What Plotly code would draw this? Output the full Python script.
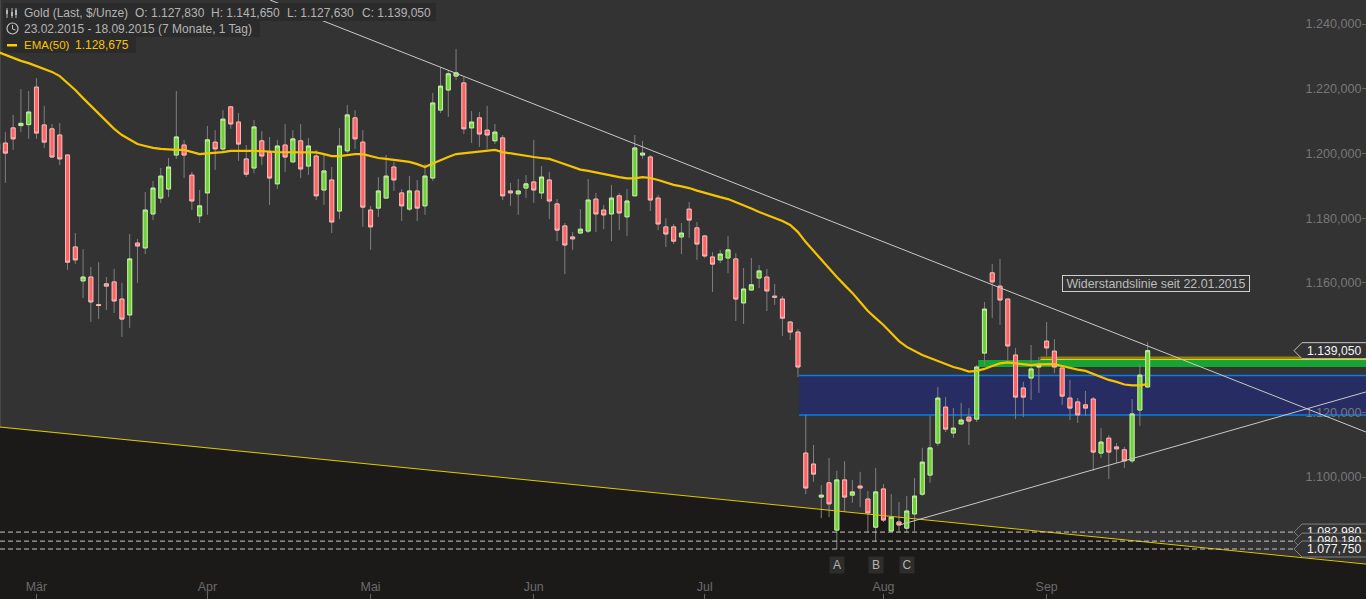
import plotly.graph_objects as go

W, H = 1366, 599

open_ = [
1203.1,1203.2,1207.9,1208.6,1208.9,1220.5,1208.8,1207.6,1205.7,1199.5,
1171.1,1160.6,1161.8,1153.3,1159.7,1160.3,1155.0,1150.1,1172.3,1170.8,
1181.3,1186.2,1189.0,1199.5,1202.6,1193.3,1180.7,1187.8,1203.5,1201.4,
1214.4,1209.7,1198.3,1195.5,1203.9,1200.4,1190.6,1202.6,1197.4,1203.9,
1196.1,1199.2,1188.7,1191.8,1182.2,1200.8,1211.0,1203.5,1182.5,1183.1,
1186.2,1195.8,1187.8,1182.8,1188.4,1183.8,1192.4,1213.4,1219.6,1223.9,
1221.8,1207.9,1211.0,1207.2,1203.9,1204.8,1188.4,1187.5,1189.3,1191.2,
1187.8,1191.8,1184.4,1177.6,1174.2,1175.4,1176.0,1185.9,1182.5,1181.3,
1186.9,1180.4,1186.9,1199.5,1198.9,1186.2,1177.3,1177.3,1174.2,1182.8,
1177.0,1174.5,1168.0,1167.1,1167.7,1167.4,1153.8,1157.8,1161.5,1161.8,
1155.9,1155.0,1147.9,1144.8,1107.4,1104.0,1093.8,1098.2,1083.6,1099.1,
1094.4,1097.2,1093.2,1084.5,1096.3,1083.3,1086.1,1084.2,1088.6,1094.7,
1100.6,1110.5,1121.6,1113.6,1116.4,1118.5,1117.9,1138.3,1163.1,1159.0,
1155.0,1137.7,1127.5,1130.6,1134.0,1142.0,1138.9,1133.7,1124.4,1123.2,
1122.3,1124.1,1107.4,1112.0,1109.3,1108.4,1105.0,1120.7,1127.83]
high = [
1204.2,1206.6,1211.9,1219.9,1219.3,1223.3,1214.7,1209.1,1209.4,1199.8,
1175.4,1170.4,1164.9,1166.4,1161.8,1164.3,1160.0,1175.1,1173.6,1188.1,
1191.5,1195.5,1198.6,1219.3,1204.2,1194.3,1188.7,1208.5,1207.2,1213.4,
1214.7,1212.5,1202.6,1210.3,1206.9,1205.1,1204.2,1209.1,1207.2,1209.1,
1204.8,1201.1,1199.5,1195.8,1207.9,1215.0,1213.4,1207.2,1183.8,1192.7,
1199.5,1197.4,1189.0,1193.0,1191.8,1196.7,1218.7,1226.7,1225.8,1232.3,
1223.6,1213.1,1212.8,1214.7,1209.1,1205.7,1190.9,1192.1,1193.3,1204.2,
1196.1,1194.3,1185.9,1178.5,1175.7,1182.8,1192.1,1187.8,1184.1,1190.3,
1187.8,1189.0,1205.7,1203.9,1199.5,1187.2,1180.0,1178.2,1178.5,1185.0,
1178.8,1174.8,1169.5,1170.2,1174.5,1169.2,1164.6,1167.7,1165.5,1164.3,
1159.7,1155.9,1148.2,1145.7,1119.2,1109.9,1097.5,1105.9,1101.9,1104.9,
1099.1,1101.6,1095.7,1102.8,1097.8,1094.7,1092.3,1094.1,1099.7,1109.0,
1118.9,1127.8,1124.7,1121.3,1122.9,1121.3,1134.6,1154.1,1165.8,1167.4,
1155.0,1139.9,1129.4,1140.8,1137.1,1147.9,1142.6,1133.7,1130.0,1124.4,
1126.6,1124.7,1115.1,1113.0,1110.5,1109.3,1124.1,1134.9,1141.65]
low = [
1199.5,1190.9,1201.1,1206.6,1204.5,1204.5,1201.7,1198.6,1196.4,1164.0,
1165.8,1155.3,1147.9,1148.8,1151.6,1150.7,1143.3,1146.1,1160.0,1168.9,
1179.4,1184.7,1186.5,1198.3,1192.4,1182.5,1178.5,1181.0,1194.9,1200.4,
1207.6,1197.7,1192.7,1193.9,1196.4,1184.1,1189.0,1194.3,1197.1,1192.4,
1193.3,1185.6,1184.1,1175.4,1179.7,1200.1,1201.4,1177.3,1170.2,1180.4,
1186.2,1188.4,1179.1,1182.2,1179.1,1181.0,1191.5,1212.5,1211.3,1222.7,
1206.0,1203.2,1202.0,1201.4,1202.9,1185.6,1183.8,1181.0,1186.2,1184.7,
1185.9,1179.7,1172.9,1162.7,1170.2,1175.1,1175.4,1175.7,1176.6,1172.9,
1176.3,1174.5,1186.9,1198.3,1182.2,1176.3,1171.1,1172.0,1168.9,1173.9,
1167.1,1167.7,1157.2,1166.1,1163.0,1148.2,1147.3,1157.5,1158.4,1151.3,
1153.2,1143.6,1142.4,1130.9,1094.7,1098.5,1087.3,1087.6,1077.75,1089.2,
1092.0,1090.7,1082.98,1080.18,1086.1,1083.0,1083.0,1083.0,1083.3,1094.1,
1098.2,1109.6,1113.9,1112.1,1116.1,1109.9,1117.0,1134.6,1149.1,1147.0,
1135.5,1117.9,1118.5,1123.8,1126.0,1137.4,1132.1,1122.3,1117.6,1116.7,
1118.9,1101.9,1105.9,1099.4,1104.3,1102.8,1104.3,1115.8,1127.63]
close = [
1201.1,1200.1,1204.5,1209.3,1212.8,1206.3,1203.5,1198.9,1198.3,1166.4,
1167.1,1161.8,1154.1,1153.0,1159.0,1154.4,1148.8,1167.4,1171.4,1182.5,
1189.3,1193.0,1195.8,1205.1,1199.5,1185.3,1183.8,1204.2,1201.4,1210.6,
1209.1,1202.9,1193.6,1208.2,1199.2,1192.4,1202.3,1198.9,1204.5,1195.2,
1202.3,1186.9,1194.6,1178.8,1202.3,1211.9,1204.5,1183.4,1177.3,1188.4,
1193.0,1191.8,1183.8,1188.4,1183.1,1193.0,1215.6,1220.8,1224.6,1224.9,
1207.6,1209.7,1206.0,1205.7,1206.6,1186.9,1187.8,1188.4,1190.6,1188.7,
1192.7,1185.3,1176.3,1171.7,1173.6,1176.6,1185.6,1181.3,1181.0,1186.2,
1181.6,1185.3,1201.7,1200.1,1185.6,1178.2,1175.1,1172.9,1175.4,1179.4,
1172.0,1168.3,1165.8,1168.9,1170.2,1155.0,1158.1,1159.4,1163.7,1157.5,
1155.6,1149.1,1144.8,1134.0,1096.6,1100.9,1094.4,1091.7,1099.1,1093.8,
1095.4,1096.6,1088.9,1095.4,1086.7,1087.6,1085.2,1089.5,1094.1,1104.6,
1109.0,1124.4,1114.8,1115.1,1117.6,1117.3,1134.0,1151.9,1160.3,1154.7,
1140.5,1124.7,1124.7,1133.4,1134.6,1139.9,1134.0,1125.0,1121.3,1119.2,
1121.3,1107.7,1110.8,1107.7,1108.7,1105.0,1119.5,1131.5,1139.05]
ema50 = [
1231.4,1230.4,1229.5,1228.6,1227.9,1227.0,1226.1,1225.2,1223.9,1221.8,
1219.6,1217.1,1214.7,1212.2,1210.0,1207.6,1205.7,1204.2,1202.9,1202.3,
1201.7,1201.4,1201.2,1201.1,1201.1,1200.4,1199.8,1200.0,1200.1,1200.4,
1200.8,1200.9,1200.8,1200.8,1200.8,1200.6,1200.4,1200.4,1200.4,1200.4,
1200.4,1200.3,1199.8,1199.2,1199.2,1199.5,1199.8,1199.8,1199.2,1198.6,
1198.3,1198.0,1197.7,1197.4,1196.7,1195.8,1196.9,1198.0,1198.9,1199.8,
1200.1,1200.3,1200.6,1200.9,1201.1,1200.4,1200.0,1199.5,1199.2,1198.9,
1198.6,1198.3,1197.5,1196.7,1195.8,1195.0,1194.6,1194.1,1193.5,1193.2,
1192.7,1192.3,1192.3,1192.7,1192.4,1191.8,1191.0,1190.3,1189.8,1189.3,
1188.5,1187.8,1187.0,1186.5,1185.9,1185.0,1183.9,1183.0,1181.9,1181.0,
1180.0,1179.1,1177.9,1175.7,1172.6,1169.9,1167.1,1164.3,1161.8,1159.3,
1156.9,1154.1,1151.3,1149.1,1147.0,1144.5,1142.0,1140.2,1138.9,1137.7,
1136.8,1135.9,1134.9,1134.0,1133.4,1132.6,1132.8,1133.4,1134.3,1135.1,
1135.4,1135.2,1134.9,1134.6,1134.8,1134.9,1134.9,1134.3,1133.7,1133.2,
1132.8,1131.8,1130.9,1130.0,1129.4,1128.6,1128.3,1128.3,1128.68]

price_ticks = [1240, 1220, 1200, 1180, 1160, 1120, 1100]
price_labels = ["1.240,000", "1.220,000", "1.200,000", "1.180,000", "1.160,000", "1.120,000", "1.100,000"]
month_ticks = [5, 27, 48, 69, 91, 114, 135]
month_labels = ["Mär", "Apr", "Mai", "Jun", "Jul", "Aug", "Sep"]

x_range = [0.309, 176.1]
y_range = [1062.3, 1247.42]

support_x = [0.31, 176.1]
support_y = [1115.45, 1073.1]
resistance_x = [35.06, 176.1]
resistance_y = [1247.42, 1113.9]
rising_x = [116.1, 176.1]
rising_y = [1085.2, 1126.3]
blue_zone = [103.15, 1131.37, 1119.16]
green_zone = [126.2, 1136.16, 1134.0]
yellow_zone = [134.2, 1137.24, 1136.31]
abc_levels = [1082.98, 1080.18, 1077.75]
abc_level_labels = ["1.082,980", "1.080,180", "1.077,750"]
last_price = 1139.05
last_price_label = "1.139,050"
abc_marks = [(108, "A"), (113, "B"), (117, "C")]

BG = "#333333"
DARK = "#1b1a19"
FONT = "Liberation Sans"


def fx(px):
    return px / W


def fy(py):
    return 1 - py / H


x = list(range(len(close)))
fig = go.Figure()

fig.add_trace(go.Candlestick(
    x=x, open=open_, high=high, low=low, close=close,
    increasing=dict(line=dict(color="#7f7f7f", width=1), fillcolor="#7f7f7f"),
    decreasing=dict(line=dict(color="#7f7f7f", width=1), fillcolor="#7f7f7f"),
    whiskerwidth=0, showlegend=False, hoverinfo="skip",
))
fig.add_trace(go.Candlestick(
    x=x, open=open_, close=close,
    high=[max(a, b) for a, b in zip(open_, close)],
    low=[min(a, b) for a, b in zip(open_, close)],
    increasing=dict(line=dict(color="#c4f2a2", width=1), fillcolor="#6fd13a"),
    decreasing=dict(line=dict(color="#ffb6b6", width=1), fillcolor="#fb6464"),
    whiskerwidth=0, showlegend=False, hoverinfo="skip",
))
fig.add_trace(go.Scatter(
    x=list(range(len(ema50))), y=ema50, mode="lines",
    line=dict(color="#f5c400", width=2.2), showlegend=False, hoverinfo="skip",
))

shapes = []
# dark area below the long-term support line
shapes.append(dict(
    type="path", layer="below", xref="x", yref="y", line=dict(width=0), fillcolor=DARK,
    path=f"M {support_x[0]-1},{support_y[0]} L {support_x[1]+1},{support_y[1]} "
         f"L {support_x[1]+1},{y_range[0]} L {support_x[0]-1},{y_range[0]} Z",
))
# zones
shapes.append(dict(type="rect", layer="below", xref="x", yref="y",
                   x0=blue_zone[0], x1=x_range[1], y0=blue_zone[2], y1=blue_zone[1],
                   fillcolor="#272d63", line=dict(width=0)))
for lv in blue_zone[1:]:
    shapes.append(dict(type="line", layer="below", xref="x", yref="y",
                       x0=blue_zone[0], x1=x_range[1], y0=lv, y1=lv,
                       line=dict(color="#0880e8", width=1.5)))
shapes.append(dict(type="rect", layer="below", xref="x", yref="y",
                   x0=green_zone[0], x1=x_range[1], y0=green_zone[2], y1=green_zone[1],
                   fillcolor="#16a534", line=dict(width=0)))
shapes.append(dict(type="rect", layer="below", xref="x", yref="y",
                   x0=yellow_zone[0], x1=x_range[1], y0=yellow_zone[2], y1=yellow_zone[1],
                   fillcolor="#8f8210", line=dict(width=0)))
shapes.append(dict(type="line", layer="below", xref="x", yref="y",
                   x0=yellow_zone[0], x1=x_range[1], y0=yellow_zone[2], y1=yellow_zone[2],
                   line=dict(color="#e8d800", width=1)))
# left border
shapes.append(dict(type="line", xref="paper", yref="paper", x0=0.0003, x1=0.0003, y0=0, y1=1,
                   line=dict(color="#4a4a4a", width=1), layer="below"))
# trend lines
shapes.append(dict(type="line", xref="x", yref="y", x0=support_x[0], x1=support_x[1],
                   y0=support_y[0], y1=support_y[1], line=dict(color="#e2c700", width=1)))
shapes.append(dict(type="line", xref="x", yref="y", x0=resistance_x[0], x1=resistance_x[1],
                   y0=resistance_y[0], y1=resistance_y[1], line=dict(color="#c9c9c9", width=1)))
shapes.append(dict(type="line", xref="x", yref="y", x0=rising_x[0], x1=rising_x[1],
                   y0=rising_y[0], y1=rising_y[1], line=dict(color="#c9c9c9", width=1)))
for lv in abc_levels:
    shapes.append(dict(type="line", xref="paper", yref="y", x0=0, x1=fx(1296), y0=lv, y1=lv,
                       line=dict(color="#c8c8c8", width=1, dash="5px,3px")))

annotations = []


def label(px, py, text, color="#b4b4b4", size=12, anchor="left", **kw):
    annotations.append(dict(xref="paper", yref="paper", x=fx(px), y=fy(py), text=text,
                            showarrow=False, xanchor=anchor, yanchor="middle",
                            font=dict(family=FONT, size=size, color=color), borderpad=0, **kw))


def tag(price, text, border, clipped=False):
    half = 8 * 0.30905
    tip, body = fx(1294), fx(1302)
    shapes.append(dict(type="path", xref="paper", yref="y", fillcolor=BG,
                       line=dict(color=border, width=1),
                       path=f"M 1.01,{price+half} L {body},{price+half} L {tip},{price} "
                            f"L {body},{price-half} L 1.01,{price-half} Z"))
    if clipped:
        # the next tag lies over the lower half of this one
        annotations.append(dict(xref="paper", yref="y", x=fx(1305.5), y=price + half, text=text,
                                showarrow=False, xanchor="left", yanchor="top", borderpad=0,
                                width=58, height=8, align="left", valign="top",
                                font=dict(family=FONT, size=12.2, color="#f4f4f4")))
    else:
        annotations.append(dict(xref="paper", yref="y", x=fx(1305.5), y=price, text=text, showarrow=False,
                                xanchor="left", yanchor="middle", borderpad=0,
                                font=dict(family=FONT, size=12.2, color="#f4f4f4")))


tag(abc_levels[0], abc_level_labels[0], "#808080", clipped=True)
tag(abc_levels[1], abc_level_labels[1], "#808080", clipped=True)
tag(abc_levels[2], abc_level_labels[2], "#808080")
tag(last_price, last_price_label, "#c4c4c4")

# header boxes
for x1, y0, y1 in [(436, 3, 21), (260, 21, 37), (136, 37, 53)]:
    shapes.append(dict(type="rect", xref="paper", yref="paper", x0=fx(3), x1=fx(x1), y0=fy(y0), y1=fy(y1),
                       fillcolor="#2b2b2b", line=dict(width=0)))
# candle icon
for cx, top, bot, b0, b1 in [(7, 8, 18, 10, 14), (12, 8, 18, 12, 16), (16, 8, 18, 10, 15)]:
    shapes.append(dict(type="line", xref="paper", yref="paper", x0=fx(cx), x1=fx(cx), y0=fy(top), y1=fy(bot),
                       line=dict(color="#b4b4b4", width=1)))
    shapes.append(dict(type="rect", xref="paper", yref="paper", x0=fx(cx - 1), x1=fx(cx + 1), y0=fy(b0), y1=fy(b1),
                       fillcolor="#b4b4b4", line=dict(width=0)))
# clock icon
shapes.append(dict(type="circle", xref="paper", yref="paper", x0=fx(7), x1=fx(18), y0=fy(23), y1=fy(34),
                   line=dict(color="#c4c4c4", width=1.2)))
shapes.append(dict(type="path", xref="paper", yref="paper", line=dict(color="#c4c4c4", width=1),
                   path=f"M {fx(12.5)},{fy(25)} L {fx(12.5)},{fy(29)} L {fx(15.5)},{fy(30)}"))
# EMA icon
shapes.append(dict(type="rect", xref="paper", yref="paper", x0=fx(7), x1=fx(17), y0=fy(44), y1=fy(46.5),
                   fillcolor="#ffcc00", line=dict(width=0)))

label(23, 12.5, "Gold (Last, $/Unze)")
label(134, 12.5, "O: 1.127,830")
label(210, 12.5, "H: 1.141,650")
label(286, 12.5, "L: 1.127,630")
label(361, 12.5, "C: 1.139,050")
label(23, 29, "23.02.2015 - 18.09.2015 (7 Monate, 1 Tag)")
label(22.5, 45, "EMA(50)", color="#f7c400", size=11.5)
label(74, 45, "1.128,675", color="#f7c400")

label(1156, 283, "Widerstandslinie seit 22.01.2015", color="#bcbcbc", anchor="center", size=12.4,
      bgcolor=BG, bordercolor="#cfcfcf", borderwidth=1, width=186, height=15)

for i, letter in abc_marks:
    annotations.append(dict(xref="x", yref="paper", x=i, y=fy(565), text=letter, showarrow=False,
                            xanchor="center", yanchor="middle", width=14, height=16, borderpad=0,
                            bgcolor="#2d2d2d", font=dict(family=FONT, size=12, color="#b4b4b4")))

fig.update_layout(
    width=W, height=H, margin=dict(l=0, r=0, t=0, b=0),
    paper_bgcolor=BG, plot_bgcolor=BG, boxgap=0.26,
    font=dict(family=FONT, size=12, color="#777777"),
    shapes=shapes, annotations=annotations, showlegend=False, hovermode=False,
    xaxis=dict(
        range=x_range, rangeslider=dict(visible=False), showgrid=False, zeroline=False, showline=False,
        tickmode="array", tickvals=month_ticks, ticktext=month_labels,
        ticks="inside", ticklen=5, tickcolor="#666666", ticklabelposition="inside",
        tickfont=dict(family=FONT, size=12.4, color="#6a6a6a"),
    ),
    yaxis=dict(
        range=y_range, side="right", showgrid=False, zeroline=False, showline=False,
        tickmode="array", tickvals=price_ticks, ticktext=price_labels,
        ticks="inside", ticklen=4, tickcolor="#666666", ticklabelposition="inside",
        tickfont=dict(family=FONT, size=12.6, color="#777777"),
    ),
)

fig.write_html(
    "out.html", config=dict(displayModeBar=False),
    post_script="document.body.style.margin='0';document.documentElement.style.overflow='hidden';"
                "document.body.style.background='#333333';",
)
